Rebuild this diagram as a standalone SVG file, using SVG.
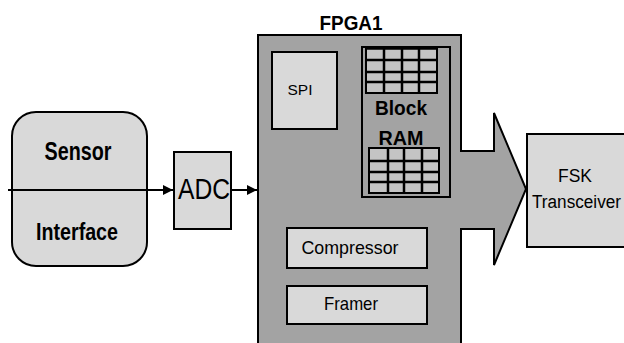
<svg xmlns="http://www.w3.org/2000/svg" width="624" height="343" viewBox="0 0 624 343">
<defs>
<style>
.box{fill:#d9d9d9;stroke:#000;stroke-width:2}
.fpga{fill:#a3a3a3;stroke:#000;stroke-width:2}
.cell{fill:#c4c4c4;stroke:#000;stroke-width:2}
.bold{font-family:"Liberation Sans",Arial,sans-serif;font-weight:bold;fill:#000}
.reg{font-family:"Liberation Sans",Arial,sans-serif;fill:#000}
.line{stroke:#000;stroke-width:2;fill:none}
.grid{stroke:#000;stroke-width:2.5;fill:none}
</style>
<marker id="ah" viewBox="0 0 10 10" refX="10" refY="5" markerWidth="5" markerHeight="5" orient="auto" markerUnits="strokeWidth">
<path d="M0,0 L10,5 L0,10 z" fill="#000"/>
</marker>
</defs>
<rect width="624" height="343" fill="#fff"/>

<g id="fpga1">
<path class="fpga" d="M258,35 H461 V151 H494 V113 L526,189 L494,265 V229 H461 V350 H258 Z"/>
<text class="bold" x="351" y="30" font-size="21" text-anchor="middle" textLength="63" lengthAdjust="spacingAndGlyphs">FPGA1</text>
</g>

<g id="sensor">
<rect class="box" x="12" y="112" width="135" height="154" rx="24" ry="24"/>
<text class="bold" x="78" y="160" font-size="25" text-anchor="middle" textLength="67" lengthAdjust="spacingAndGlyphs">Sensor</text>
<text class="bold" x="77" y="240" font-size="24" text-anchor="middle" textLength="82" lengthAdjust="spacingAndGlyphs">Interface</text>
</g>

<g id="adc">
<rect class="box" x="174" y="152" width="57" height="77"/>
<text class="reg" x="204" y="199" font-size="29" text-anchor="middle" textLength="52" lengthAdjust="spacingAndGlyphs">ADC</text>
</g>

<g id="spi">
<rect class="box" x="272" y="52" width="65" height="77"/>
<text class="reg" x="300" y="95" font-size="15" text-anchor="middle" textLength="25" lengthAdjust="spacingAndGlyphs">SPI</text>
</g>

<g id="blockram">
<rect x="362" y="47" width="88" height="150" fill="none" stroke="#000" stroke-width="2"/>
<rect class="cell" x="366" y="48" width="71" height="45"/>
<path class="grid" d="M366,48.5 H437 M384,48 V93 M402,48 V93 M419,48 V93 M366,60 H437 M366,72 H437 M366,82 H437"/>
<rect class="cell" x="369" y="148" width="70" height="45"/>
<path class="grid" d="M388,148 V193 M404,148 V193 M422,148 V193 M369,161 H439 M369,172 H439 M369,182 H439"/>
<text class="bold" x="401" y="115" font-size="21" text-anchor="middle" textLength="52" lengthAdjust="spacingAndGlyphs">Block</text>
<text class="bold" x="401" y="145" font-size="21" text-anchor="middle" textLength="45" lengthAdjust="spacingAndGlyphs">RAM</text>
</g>

<g id="compressor">
<rect class="box" x="287" y="228" width="140" height="40"/>
<text class="reg" x="350" y="254" font-size="19" text-anchor="middle" textLength="97" lengthAdjust="spacingAndGlyphs">Compressor</text>
</g>

<g id="framer">
<rect class="box" x="287" y="286" width="140" height="38"/>
<text class="reg" x="351" y="310" font-size="19" text-anchor="middle" textLength="54" lengthAdjust="spacingAndGlyphs">Framer</text>
</g>

<g id="fsk">
<rect class="box" x="527" y="134" width="110" height="113"/>
<text class="reg" x="575" y="182" font-size="18" text-anchor="middle" textLength="34" lengthAdjust="spacingAndGlyphs">FSK</text>
<text class="reg" x="532" y="208" font-size="18" textLength="89" lengthAdjust="spacingAndGlyphs">Transceiver</text>
</g>

<g id="connectors">
<line class="line" x1="8" y1="190" x2="173" y2="190" marker-end="url(#ah)"/>
<line class="line" x1="231" y1="190" x2="257" y2="190" marker-end="url(#ah)"/>
</g>
</svg>
